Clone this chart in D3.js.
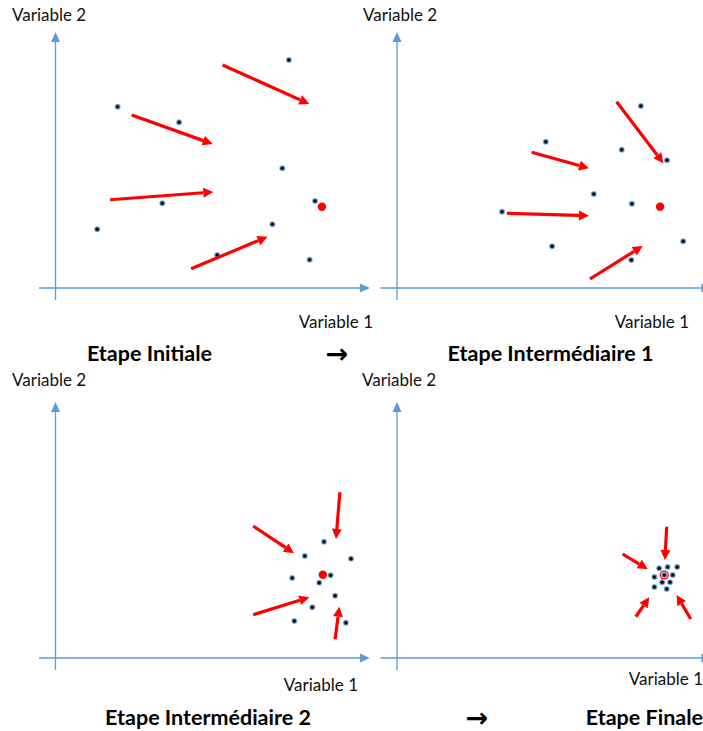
<!DOCTYPE html>
<html>
<head>
<meta charset="utf-8">
<script src="https://cdn.jsdelivr.net/npm/d3@7"></script>
<style>
  html, body { margin: 0; padding: 0; background: #fff; }
  svg { display: block; font-family: Lato, "Open Sans", sans-serif; }
</style>
</head>
<body>
<svg id="chart" width="703" height="731"></svg>
<script>
// k-means style convergence, four steps. Values in a 0-100 space per panel.
const STAGES = ["Etape Initiale", "Etape Intermédiaire 1", "Etape Intermédiaire 2", "Etape Finale"];
const X_LABEL = "Variable 1";
const Y_LABEL = "Variable 2";

// [variable1, variable2]
const pointsInitial = [[77.8, 91.2], [20.7, 72.5], [41.2, 66.3], [75.6, 47.9], [86.5, 34.8],
  [35.6, 33.9], [13.9, 23.5], [72.3, 25.5], [53.9, 13.2], [84.7, 11.3]];
const pointsInter1 = [[81.3, 72.8], [49.6, 58.5], [74.9, 55.3], [90.0, 51.1], [65.6, 37.6],
  [78.3, 33.7], [35.0, 30.5], [95.4, 18.7], [51.7, 16.7], [78.1, 11.2]];
const pointsInter2 = [[89.5, 46.5], [83.1, 40.8], [98.5, 39.7], [78.9, 32.0], [91.7, 33.1],
  [87.9, 30.1], [93.2, 24.9], [85.6, 20.3], [79.6, 14.8], [96.8, 14.1]];
const pointsFinal = [[87.4, 35.9], [90.2, 36.4], [93.4, 36.4], [89.1, 33.2], [85.8, 32.4],
  [91.9, 33.2], [88.4, 30.3], [91.0, 30.3], [85.8, 28.4], [89.9, 27.6]];

// red target point per stage
const targets = [[88.8, 32.5], [87.7, 32.5], [89.1, 33.3], [89.1, 33.2]];

// movement arrows: [x0, y0, x1, y1]
const arrowsInitial = [[55.7, 89.2, 84.6, 73.6], [25.4, 69.2, 52.4, 57.6],
  [18.2, 35.3, 52.6, 38.4], [45.2, 7.7, 70.7, 20.5]];
const arrowsInter1 = [[73.2, 74.5, 88.8, 49.9], [44.9, 54.3, 64.0, 47.9],
  [36.6, 29.9, 64.0, 28.9], [64.3, 3.6, 81.9, 16.8]];
const arrowsInter2 = [[65.9, 52.8, 79.5, 41.9], [94.8, 66.3, 93.5, 47.6],
  [65.9, 17.3, 84.6, 24.3], [93.2, 7.5, 94.6, 20.5]];
const arrowsFinal = [[89.9, 52.5, 89.3, 39.2], [75.2, 41.6, 83.6, 35.5],
  [79.6, 16.5, 84.1, 24.3], [97.9, 15.6, 93.2, 25.2]];

const AXIS = "#5b9bd5";
const RED = "#ff0000";

const svg = d3.select("#chart");

const panels = [
  { ox: 55.5, oy: 288, pts: pointsInitial, arrows: arrowsInitial, target: targets[0],
    xlab: [373, 328], ylab: [12, 21] },
  { ox: 397, oy: 288, pts: pointsInter1, arrows: arrowsInter1, target: targets[1],
    xlab: [689, 328], ylab: [363, 21] },
  { ox: 55.5, oy: 658, pts: pointsInter2, arrows: arrowsInter2, target: targets[2],
    xlab: [358, 691], ylab: [12, 386] },
  { ox: 397, oy: 658, pts: pointsFinal, arrows: arrowsFinal, target: targets[3],
    xlab: [703, 685], ylab: [362, 386], ring: true },
];

function arrowHead(g, x0, y0, x1, y1, len, half, color) {
  const dx = x1 - x0, dy = y1 - y0;
  const d = Math.hypot(dx, dy);
  const ux = dx / d, uy = dy / d;
  const bx = x1 - ux * len, by = y1 - uy * len;
  g.append("polygon")
    .attr("points", [[x1, y1], [bx - uy * half, by + ux * half], [bx + uy * half, by - ux * half]]
      .map((p) => p.join(",")).join(" "))
    .attr("fill", color);
  return [bx, by];
}

panels.forEach((p) => {
  const x = d3.scaleLinear().domain([0, 100]).range([p.ox, p.ox + 300]);
  const y = d3.scaleLinear().domain([0, 100]).range([p.oy, p.oy - 250]);
  const g = svg.append("g");

  // axes with arrow tips
  const [hx, hy] = [x(104.8), y(0)];
  const xb = arrowHead(g, x(-5.5), hy, hx, hy, 10, 4.5, AXIS);
  g.append("line").attr("x1", x(-5.5)).attr("y1", hy).attr("x2", xb[0]).attr("y2", hy)
    .attr("stroke", AXIS).attr("stroke-width", 1.3);
  const yb = arrowHead(g, x(0), y(-4.8), x(0), y(102.4), 10, 4.5, AXIS);
  g.append("line").attr("x1", x(0)).attr("y1", y(-4.8)).attr("x2", x(0)).attr("y2", yb[1])
    .attr("stroke", AXIS).attr("stroke-width", 1.3);

  g.append("text").attr("x", p.xlab[0]).attr("y", p.xlab[1]).attr("text-anchor", "end")
    .attr("font-size", 17).attr("fill", "#111").text(X_LABEL);
  g.append("text").attr("x", p.ylab[0]).attr("y", p.ylab[1])
    .attr("font-size", 17).attr("fill", "#111").text(Y_LABEL);

  // target (red)
  g.append("circle").attr("cx", x(p.target[0])).attr("cy", y(p.target[1]))
    .attr("r", p.ring ? 4.6 : 4.2).attr("fill", RED);
  if (p.ring) {
    g.append("circle").attr("cx", x(p.target[0])).attr("cy", y(p.target[1]))
      .attr("r", 3.3).attr("fill", "#fff");
  }

  // points
  const dots = g.selectAll("g.dot").data(p.pts).join("g").attr("class", "dot")
    .attr("transform", (d) => `translate(${x(d[0])},${y(d[1])})`);
  dots.append("circle").attr("r", 3).attr("fill", "#8fb4da");
  dots.append("circle").attr("r", 2.3).attr("fill", "#3d6d9c");
  dots.append("circle").attr("r", 1.5).attr("fill", "#05070c");

  // movement arrows
  p.arrows.forEach((a) => {
    const [x0, y0, x1, y1] = [x(a[0]), y(a[1]), x(a[2]), y(a[3])];
    const b = arrowHead(g, x0, y0, x1, y1, 10, 5, RED);
    g.append("line").attr("x1", x0).attr("y1", y0).attr("x2", b[0]).attr("y2", b[1])
      .attr("stroke", RED).attr("stroke-width", 3.2);
  });
});

// stage titles
const titles = [[149.5, 353, "middle"], [550.5, 353, "middle"], [208, 717, "middle"], [703, 717, "end"]];
STAGES.forEach((s, i) => {
  svg.append("text").attr("x", titles[i][0]).attr("y", titles[i][1])
    .attr("text-anchor", titles[i][2]).attr("dominant-baseline", "central")
    .attr("font-size", 21.5).attr("font-weight", 700).attr("fill", "#000").text(s);
});
[[337, 353], [477, 717]].forEach((t) => {
  svg.append("text").attr("x", t[0]).attr("y", t[1]).attr("text-anchor", "middle")
    .attr("dominant-baseline", "central").attr("font-family", "DejaVu Sans")
    .attr("font-size", 27).attr("font-weight", 700).text("→");
});
</script>
</body>
</html>
